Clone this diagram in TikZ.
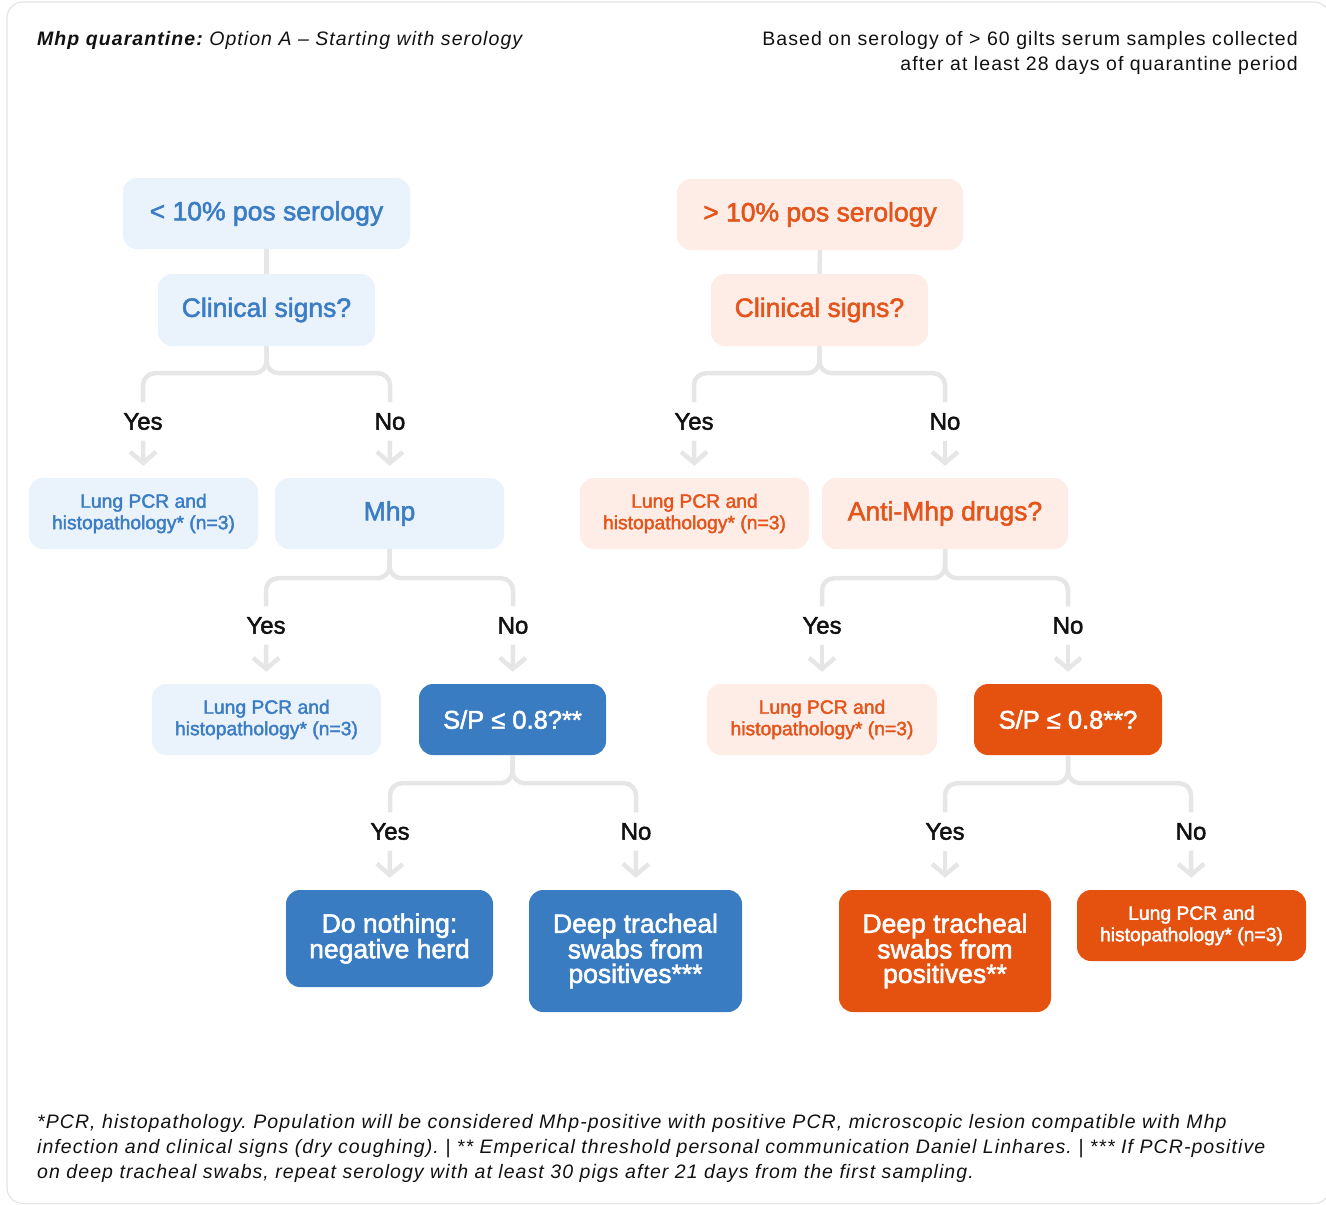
\documentclass[tikz,border=0pt]{standalone}
\usepackage{fontspec}
\setmainfont{Liberation Sans}
\newfontfamily\boxfont[FakeBold=2]{Liberation Sans}
\newfontfamily\notefont[LetterSpace=5.5]{Liberation Sans}
\usetikzlibrary{arrows.meta}
\frenchspacing

\definecolor{bluelight}{HTML}{EAF2FB}
\definecolor{bluetext}{HTML}{3B7DC4}
\definecolor{bluedark}{HTML}{3A7CC2}
\definecolor{orlight}{HTML}{FDEDE6}
\definecolor{ortext}{HTML}{E4541B}
\definecolor{ordark}{HTML}{E55210}
\definecolor{linegray}{HTML}{E6E6E6}
\definecolor{cardgray}{HTML}{E4E4E4}
\definecolor{inkblack}{HTML}{111111}

\begin{document}
\begin{tikzpicture}[x=1pt,y=-1pt,
  box/.style={rounded corners=14pt, inner sep=0pt, align=center},
  lb/.style={box, fill=bluelight, text=bluetext},
  db/.style={box, fill=bluedark, text=white},
  lo/.style={box, fill=orlight, text=ortext},
  dko/.style={box, fill=ordark, text=white},
  big/.style={font=\boxfont\fontsize{26.5}{24.5}\selectfont},
  mid/.style={font=\boxfont\fontsize{25.5}{24}\selectfont},
  small/.style={font=\boxfont\fontsize{19.3}{21.5}\selectfont},
  ans/.style={font=\boxfont\fontsize{24}{24}\selectfont, minimum height=38pt, inner sep=0pt, text=inkblack},
  conn/.style={draw=linegray, line width=4.5pt, rounded corners=12pt},
  arr/.style={draw=linegray, line width=4.5pt, -{Straight Barb[length=11pt,width=26pt]}, shorten >=12pt},
  note/.style={font=\notefont\fontsize{19.5}{25}\selectfont\itshape, inner sep=0pt, text=inkblack},
  head/.style={font=\notefont\fontsize{19.5}{25}\selectfont, inner sep=0pt, text=inkblack}
]
\useasboundingbox (0,0) rectangle (1326,1205);

% card outline
\begin{scope}
  \clip (0,0) rectangle (1326,1205);
  \draw[cardgray, line width=1.2pt, rounded corners=16pt] (7,2) rectangle (1330,1203.5);
\end{scope}

% header
\node[head, anchor=base west, font=\notefont\fontsize{19.5}{25}\selectfont\itshape] (title) at (37,45)
  {\bfseries Mhp quarantine:\ \mdseries Option A – Starting with serology};
\node[head, anchor=base east] (basis1) at (1298,45) {Based on serology of > 60 gilts serum samples collected};
\node[head, anchor=base east] (basis2) at (1298,70) {after at least 28 days of quarantine period};

% ---------- left branch: below 10% ----------
\node[lb, big, minimum width=287pt, minimum height=71pt] (s1) at (266.5,213.5) {< 10\% pos serology};
\node[lb, big, minimum width=217pt, minimum height=72pt] (c1) at (266.5,310) {Clinical signs?};
\node[lb, small, minimum width=229pt, minimum height=71pt] (l1) at (143.5,513.5) {Lung PCR and\\histopathology* (n=3)};
\node[lb, big, minimum width=229pt, minimum height=71pt] (m1) at (389.5,513.5) {Mhp};
\node[lb, small, minimum width=229pt, minimum height=71pt] (l2) at (266.5,719.5) {Lung PCR and\\histopathology* (n=3)};
\node[db, mid, minimum width=187pt, minimum height=71pt] (sp1) at (512.5,719.5) {S/P ≤ 0.8?**};
\node[db, big, minimum width=207pt, minimum height=97pt] (dn) at (389.5,938.5) {Do nothing:\\negative herd};
\node[db, big, minimum width=213pt, minimum height=122pt] (dt1) at (635.5,951) {Deep tracheal\\swabs from\\positives***};

\node[ans] (c1y) at (143,421.5) {Yes};
\node[ans] (c1n) at (390,421.5) {No};
\node[ans] (m1y) at (266,625.5) {Yes};
\node[ans] (m1n) at (513,625.5) {No};
\node[ans] (sp1y) at (390,831.5) {Yes};
\node[ans] (sp1n) at (636,831.5) {No};

% ---------- right branch: above 10% ----------
\node[lo, big, minimum width=286pt, minimum height=71pt] (s2) at (820,214.5) {> 10\% pos serology};
\node[lo, big, minimum width=217pt, minimum height=72pt] (c2) at (819.5,310) {Clinical signs?};
\node[lo, small, minimum width=229pt, minimum height=71pt] (l3) at (694.5,513.5) {Lung PCR and\\histopathology* (n=3)};
\node[lo, big, minimum width=246pt, minimum height=71pt] (am) at (945,513.5) {Anti-Mhp drugs?};
\node[lo, small, minimum width=230pt, minimum height=71pt] (l4) at (822,719.5) {Lung PCR and\\histopathology* (n=3)};
\node[dko, mid, minimum width=188pt, minimum height=71pt] (sp2) at (1068,719.5) {S/P ≤ 0.8**?};
\node[dko, big, minimum width=212pt, minimum height=122pt] (dt2) at (945,951) {Deep tracheal\\swabs from\\positives**};
\node[dko, small, minimum width=229pt, minimum height=71pt] (l5) at (1191.5,925.5) {Lung PCR and\\histopathology* (n=3)};

\node[ans] (c2y) at (694,421.5) {Yes};
\node[ans] (c2n) at (945,421.5) {No};
\node[ans] (amy) at (822,625.5) {Yes};
\node[ans] (amn) at (1068,625.5) {No};
\node[ans] (sp2y) at (945,831.5) {Yes};
\node[ans] (sp2n) at (1191,831.5) {No};

% ---------- connectors ----------
\draw[conn] (s1.south) -- (c1.north);
\draw[conn] (s2.south) -- (c2.north);

\foreach \p/\y/\n/\d in {c1/c1y/c1n/27, m1/m1y/m1n/29, sp1/sp1y/sp1n/28,
                         c2/c2y/c2n/27, am/amy/amn/29, sp2/sp2y/sp2n/28}{
  \draw[conn] (\p.south) -- ++(0,\d) -| (\y.north);
  \draw[conn] (\p.south) -- ++(0,\d) -| (\n.north);
}

\draw[arr] (c1y.south) -- (l1.north);
\draw[arr] (c1n.south) -- (m1.north);
\draw[arr] (m1y.south) -- (l2.north);
\draw[arr] (m1n.south) -- (sp1.north);
\draw[arr] (sp1y.south) -- (dn.north);
\draw[arr] (sp1n.south) -- (dt1.north);
\draw[arr] (c2y.south) -- (l3.north);
\draw[arr] (c2n.south) -- (am.north);
\draw[arr] (amy.south) -- (l4.north);
\draw[arr] (amn.south) -- (sp2.north);
\draw[arr] (sp2y.south) -- (dt2.north);
\draw[arr] (sp2n.south) -- (l5.north);

% ---------- footnotes ----------
\node[note, anchor=base west] (fn1) at (37,1128) {*PCR, histopathology. Population will be considered Mhp-positive with positive PCR, microscopic lesion compatible with Mhp};
\node[note, anchor=base west] (fn2) at (37,1153) {infection and clinical signs (dry coughing). | ** Emperical threshold personal communication Daniel Linhares. | *** If PCR-positive};
\node[note, anchor=base west] (fn3) at (37,1178) {on deep tracheal swabs, repeat serology with at least 30 pigs after 21 days from the first sampling.};
\end{tikzpicture}
\end{document}
